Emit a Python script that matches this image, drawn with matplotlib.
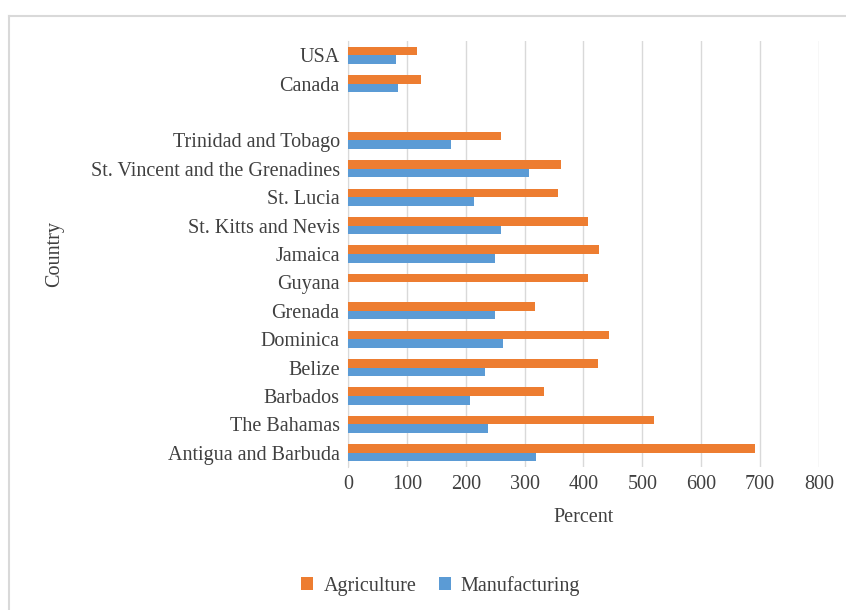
import numpy as np
import matplotlib
matplotlib.use("Agg")
import matplotlib.pyplot as plt
from matplotlib.lines import Line2D

# bottom to top, blank slot separates the Caribbean group from North America
countries = ["Antigua and Barbuda", "The Bahamas", "Barbados", "Belize", "Dominica",
             "Grenada", "Guyana", "Jamaica", "St. Kitts and Nevis", "St. Lucia",
             "St. Vincent and the Grenadines", "Trinidad and Tobago", "", "Canada", "USA"]
agriculture = [691, 519, 333, 425, 444, 318, 408, 427, 408, 357, 361, 260, 0, 124, 117]
manufacturing = [320, 238, 208, 233, 264, 250, 0, 250, 260, 214, 308, 175, 0, 85, 82]

plt.rcParams["font.family"] = ["Liberation Serif", "DejaVu Serif"]

fig = plt.figure(figsize=(8.46, 6.10), dpi=100)
# chart area frame (only top and left edges are visible in the crop)
fx, fy = 8.5 / 846, 1 - 15.5 / 610
fig.lines.append(Line2D([fx, 1], [fy, fy], transform=fig.transFigure, color="#d9d9d9", lw=1.5))
fig.lines.append(Line2D([fx, fx], [0, fy], transform=fig.transFigure, color="#d9d9d9", lw=1.5))

ax = fig.add_axes([0.4113, 0.2344, 0.5568, 0.6984])

y = np.arange(len(countries))
h = 0.3
ax.barh(y + h / 2, agriculture, height=h, color="#ED7D31", label="Agriculture", zorder=3)
ax.barh(y - h / 2, manufacturing, height=h, color="#5B9BD5", label="Manufacturing", zorder=3)

ax.set_xlim(0, 800)
ax.set_ylim(-0.5, len(countries) - 0.5)
ax.set_xticks(range(0, 801, 100))
ax.set_yticks(y)
ax.set_yticklabels(countries)
ax.tick_params(length=0, labelsize=14.5, colors="#404040", pad=6)
ax.xaxis.grid(True, color="#d9d9d9", lw=1, zorder=0)
for s in ["top", "right", "bottom"]:
    ax.spines[s].set_visible(False)
ax.spines["left"].set_color("#d9d9d9")

ax.set_xlabel("Percent", fontsize=14.5, color="#404040", labelpad=10)
ax.set_ylabel("Country", fontsize=14.5, color="#404040")
ax.yaxis.set_label_coords((64 - 348) / 471, 0.5)

fig.legend(loc="center", bbox_to_anchor=(0.521, 0.04), ncol=2, frameon=False,
           fontsize=14.5, handlelength=0.6, handleheight=0.6, columnspacing=1.1,
           handletextpad=0.5, labelcolor="#404040")

fig.savefig("out.png", dpi=100)
